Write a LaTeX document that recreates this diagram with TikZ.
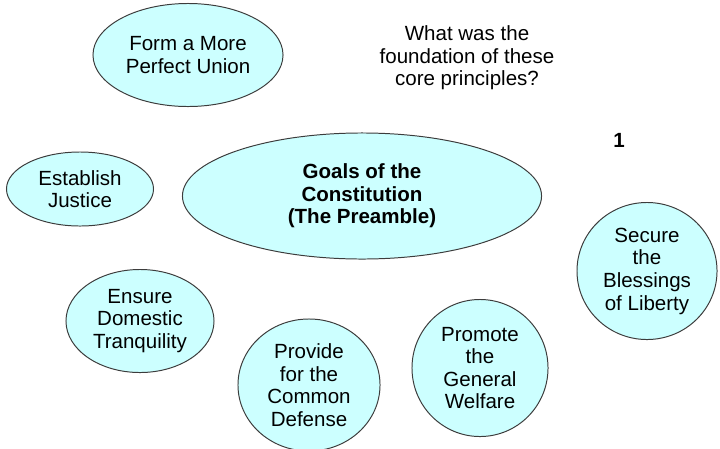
\documentclass[tikz,border=0pt]{standalone}
\usepackage{fontspec}
\setmainfont{Liberation Sans}
\usepackage{tikz}
\usetikzlibrary{positioning,shapes.geometric}
\definecolor{Pale}{HTML}{CCFFFF}
\definecolor{Edge}{HTML}{3C3C3C}

\begin{document}
\begin{tikzpicture}[x=0.025cm,y=-0.025cm,
      goal/.style={ellipse,draw=Edge,line width=0.7pt,fill=Pale,inner sep=0pt,
        align=center,font=\fontsize{14.6}{16.1}\selectfont},
      note/.style={align=center,font=\fontsize{14.6}{16.1}\selectfont}]
      \useasboundingbox (0,0) rectangle (720,448);
      \node[goal,minimum width=4.75cm,minimum height=2.575cm] (union) at (188,55) {Form a More\\Perfect Union};
      \node[note] (question) at (467,58) {What was the\\foundation of these\\core principles?};
      \node[note,font=\fontsize{14.6}{16.1}\selectfont\bfseries] (num) at (619,140) {1};
      \node[goal,minimum width=3.675cm,minimum height=1.85cm] (justice) at (80,189) {Establish\\Justice};
      \node[goal,minimum width=8.975cm,minimum height=3.15cm,font=\fontsize{14.6}{16.1}\selectfont\bfseries] (goals) at (362,196) {Goals of the\\Constitution\\(The Preamble)};
      \node[goal,minimum width=3.5cm,minimum height=3.425cm] (liberty) at (647,271) {Secure\\the\\Blessings\\of Liberty};
      \node[goal,minimum width=3.7cm,minimum height=2.575cm] (tranquility) at (140,321) {Ensure\\Domestic\\Tranquility};
      \node[goal,minimum width=3.55cm,minimum height=3.3cm] (defense) at (309,385) {Provide\\for the\\Common\\Defense};
      \node[goal,minimum width=3.4cm,minimum height=3.425cm] (welfare) at (480,368) {Promote\\the\\General\\Welfare};
    \end{tikzpicture}
\end{document}
